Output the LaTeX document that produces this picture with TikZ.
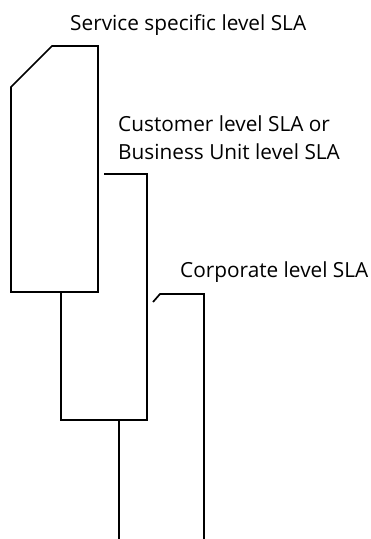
\documentclass[tikz,border=0pt]{standalone}
\usepackage{fontspec}
\setmainfont{Open Sans}
\tikzset{
  edge/.style={line width=1.7pt, black, line join=miter},
  lbl/.style={anchor=base west, inner sep=0pt, font=\fontsize{20.8}{25}\selectfont}
}
\begin{document}
\begin{tikzpicture}[x=1pt,y=-1pt]
\useasboundingbox (0,0) rectangle (371,539);
% labels
\node[lbl] (t1) at (70,30) {Service specific level SLA};
\node[lbl] (t2) at (118,131) {Customer level SLA or};
\node[lbl] (t3) at (118,159) {Business Unit level SLA};
\node[lbl] (t4) at (180,277) {Corporate level SLA};
% service specific shape
\draw[edge] (11,87) -- (52,46) -- (98,46) -- (98,292) -- (11,292) -- cycle;
% customer / business unit shape
\draw[edge] (104,174) -- (147,174) -- (147,420) -- (61,420) -- (61,292);
% corporate shape
\draw[edge] (153,302) -- (160,294) -- (204,294) -- (204,539);
\draw[edge] (119,420) -- (119,539);
\end{tikzpicture}
\end{document}
